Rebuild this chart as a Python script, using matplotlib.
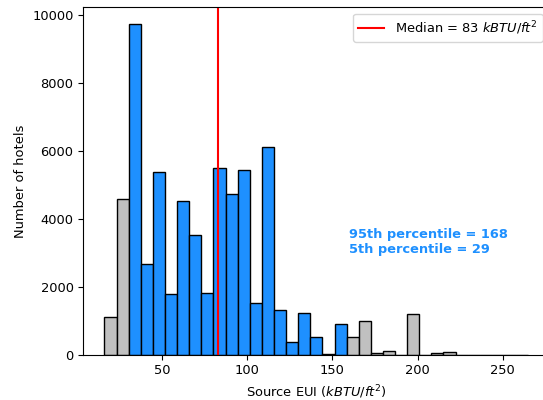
import numpy as np
from matplotlib import pyplot as plt

# histogram of source EUI, 35 bins between min and max
eui_min = 16.2
eui_max = 265.0
counts = [1100, 4570, 9735, 2660, 5390, 1775, 4530, 3530, 1820, 5500,
          4735, 5425, 1520, 6115, 1325, 365, 1220, 520, 20, 912,
          520, 990, 40, 100, 0, 1197, 0, 40, 70, 4,
          2, 0, 1, 0, 2]
in_range = [False, False] + [True] * 18 + [False] * 15
median = 83
p95 = 168
p5 = 29

edges = np.linspace(eui_min, eui_max, len(counts) + 1)
colors = ["dodgerblue" if f else "silver" for f in in_range]

plt.rcParams["font.size"] = 9.4

fig = plt.figure(figsize=(5.43, 4.0), dpi=100)
ax = fig.add_axes([83.3 / 543, 45.3 / 400, 466.1 / 543, 347.4 / 400])

ax.bar(edges[:-1], counts, width=np.diff(edges), align="edge",
       color=colors, edgecolor="black", linewidth=1)
ax.axvline(median, color="red", label=f"Median = {median} $kBTU/ft^2$")

ax.text(160, 3000, f"95th percentile = {p95}\n5th percentile = {p5}",
        color="dodgerblue", fontweight="bold")

ax.set_xlabel("Source EUI ($kBTU/ft^2$)")
ax.set_ylabel("Number of hotels")
ax.legend(loc="upper right")

plt.savefig("out.png", dpi=100)
